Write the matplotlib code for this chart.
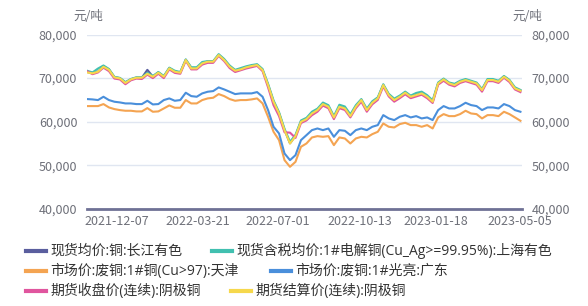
import matplotlib
matplotlib.use("Agg")
import matplotlib.pyplot as plt
import matplotlib.dates as mdates
from matplotlib.lines import Line2D
from matplotlib.ticker import FuncFormatter
import pandas as pd

plt.rcParams['font.family'] = ['Noto Sans CJK SC', 'DejaVu Sans']

# weekly samples
dates = pd.date_range("2021-10-30", periods=80, freq="7D")

yellow = [71300, 71100, 71470, 72600, 71900, 70170, 69940, 68900, 69710, 70090,
          70090, 71000, 70320, 71240, 70320, 72230, 71470, 71240, 74150, 72230,
          72230, 73380, 73760, 73760, 75290, 74150, 72620, 71700, 72000, 72460,
          72770, 73000, 71850, 68410, 64580, 61910, 58080, 55020, 56700, 60000,
          60600, 61900, 62670, 64050, 63440, 60990, 63440, 63050, 61290, 63440,
          64970, 62670, 64350, 65350, 68410, 66110, 64970, 65730, 66650, 65730,
          66110, 66500, 65730, 64580, 68790, 69710, 68790, 68410, 69170, 69560,
          69170, 68790, 67260, 69560, 69560, 69170, 70320, 69400, 67640, 67110]

teal = [71700, 71300, 72200, 72900, 72100, 70300, 70050, 69100, 69800, 70200,
        70200, 71200, 70500, 71400, 70500, 72400, 71700, 71400, 74300, 72500,
        72500, 73700, 73900, 73900, 75500, 74400, 72900, 71900, 72300, 72700,
        73000, 73200, 72100, 68700, 64900, 62200, 58400, 55400, 57000, 60300,
        60900, 62300, 63000, 64400, 63800, 61300, 63900, 63500, 61700, 63800,
        65200, 63000, 64700, 65600, 68600, 66400, 65300, 66000, 66900, 66000,
        66600, 66900, 66100, 64900, 69000, 69900, 69000, 68700, 69400, 69800,
        69400, 69000, 67500, 69800, 69800, 69400, 70500, 69600, 67900, 67300]

navy = [71400, 71200, 71500, 72700, 72000, 70200, 70000, 68950, 69750, 70100,
        70100, 71900, 70350, 71300, 70350, 72300, 71500, 71300, 74200, 72300,
        72300, 73400, 73800, 73800, 75300, 74200, 72650, 71750, 72050, 72500,
        72800, 73050, 71900, 68450, 64600, 61950, 58100, 55050, 56750, 60050,
        60650, 61950, 62700, 64100, 63500, 61000, 63500, 63100, 61300, 63500,
        65000, 62700, 64400, 65400, 68450, 66150, 65000, 65750, 66700, 65750,
        66150, 66550, 65750, 64600, 68800, 69750, 68800, 68450, 69200, 69600,
        69200, 68800, 67300, 69600, 69600, 69200, 70350, 69450, 67650, 67150]

pink = [71600, 70900, 71300, 72400, 71600, 69900, 69700, 68600, 69500, 69900,
        69800, 70800, 70000, 71000, 70000, 72000, 71200, 71000, 74000, 72000,
        72000, 73100, 73500, 73500, 75100, 73900, 72300, 71400, 71800, 72200,
        72500, 72800, 71600, 67900, 63800, 61300, 57600, 57500, 56300, 59700,
        60300, 61500, 62300, 63700, 63100, 60600, 63100, 62700, 61000, 63100,
        64600, 62300, 64000, 65000, 68100, 65800, 64600, 65400, 66300, 65400,
        65800, 66200, 65400, 64300, 68500, 69400, 68500, 68100, 68900, 69300,
        68900, 68500, 66900, 69300, 69300, 68900, 70100, 69100, 67400, 66800]

blue = [65200, 65120, 64970, 65730, 64970, 64585, 64430, 64200, 64200, 64050,
        64050, 64810, 63970, 64050, 64970, 65350, 64810, 64970, 66650, 65880,
        65730, 66500, 66880, 67030, 67870, 67410, 66880, 66340, 66500, 66500,
        66500, 66800, 65730, 62670, 58850, 57320, 52730, 51200, 52340, 55790,
        56930, 58080, 58460, 58080, 58460, 56550, 58080, 57930, 56930, 58080,
        58460, 58080, 58850, 59230, 61520, 60760, 60380, 61140, 61520, 60990,
        61290, 60760, 60990, 60380, 62670, 63590, 63050, 63050, 63590, 64350,
        63820, 63590, 62670, 63280, 63280, 63050, 64050, 63590, 62670, 62290]

orange = [63590, 63590, 63590, 64050, 63280, 62900, 62670, 62520, 62520, 62370,
          62370, 63130, 62290, 62370, 63050, 63740, 63210, 63210, 64970, 64200,
          64200, 64970, 65350, 65500, 66340, 65880, 65200, 64810, 64970, 64970,
          65120, 65350, 64200, 61140, 57700, 55790, 51200, 49670, 50810, 54260,
          55020, 56400, 56700, 56550, 56700, 54640, 56400, 56170, 55020, 56170,
          56550, 56400, 57160, 57700, 59610, 58850, 58690, 59460, 59760, 59230,
          59230, 58850, 59230, 58460, 60990, 61750, 61290, 61290, 61750, 62520,
          61900, 61750, 60760, 61520, 61520, 61290, 62290, 61750, 60990, 60220]

names = ["现货均价:铜:长江有色", "现货含税均价:1#电解铜(Cu_Ag>=99.95%):上海有色",
         "市场价:废铜:1#铜(Cu>97):天津", "市场价:废铜:1#光亮:广东",
         "期货收盘价(连续):阴极铜", "期货结算价(连续):阴极铜"]
colors = ["#5a5e9e", "#41c0b0", "#f4a452", "#4a8fdb", "#e0559e", "#f6d84c"]
series = [navy, teal, orange, blue, pink, yellow]

tick_dates = ["2021-12-07", "2022-03-21", "2022-07-01", "2022-10-13", "2023-01-18", "2023-05-05"]
grey = "#6e7079"

fig = plt.figure(figsize=(5.88, 3.06), dpi=100)
ax = fig.add_axes([87 / 588, 1 - 209 / 306, (522 - 87) / 588, (209 - 34.5) / 306])

for vals, c in zip(series, colors):
    ax.plot(dates, vals, color=c, lw=1.5, solid_joinstyle="round")

ax.set_ylim(40000, 80000)
ax.set_yticks([40000, 50000, 60000, 70000, 80000])
ax.yaxis.set_major_formatter(FuncFormatter(lambda v, p: f"{int(v):,}"))
ax.set_xlim(pd.Timestamp("2021-10-30"), pd.Timestamp("2023-05-08"))
ax.set_xticks(pd.to_datetime(tick_dates))
ax.xaxis.set_major_formatter(mdates.DateFormatter("%Y-%m-%d"))

ax.grid(axis="y", color="#e0e6f1", lw=1)
ax.set_axisbelow(True)
for s in ["top", "left", "right"]:
    ax.spines[s].set_visible(False)
ax.spines["bottom"].set_color("#6f7195")
ax.spines["bottom"].set_linewidth(2)
ax.tick_params(axis="both", length=0, labelsize=9, colors=grey)
ax.tick_params(axis="y", labelright=True, pad=7)
ax.tick_params(axis="x", pad=4)

fig.text(88 / 588, 1 - 17 / 306, "元/吨", ha="center", va="center", fontsize=9, color=grey)
fig.text(527 / 588, 1 - 17 / 306, "元/吨", ha="center", va="center", fontsize=9, color=grey)

# legend laid out in rows like the original
legend_pos = [(26, 251), (212, 251), (26, 271), (271, 271), (26, 291), (231, 291)]
for (x, y), name, c in zip(legend_pos, names, colors):
    fy = 1 - y / 306
    fig.add_artist(Line2D([x / 588, (x + 20) / 588], [fy, fy], color=c, lw=3))
    fig.text((x + 24) / 588, fy, name, ha="left", va="center", fontsize=10, color="#333333",
             family=["Open Sans", "Noto Sans CJK SC"])

fig.savefig("out.png", dpi=100)
